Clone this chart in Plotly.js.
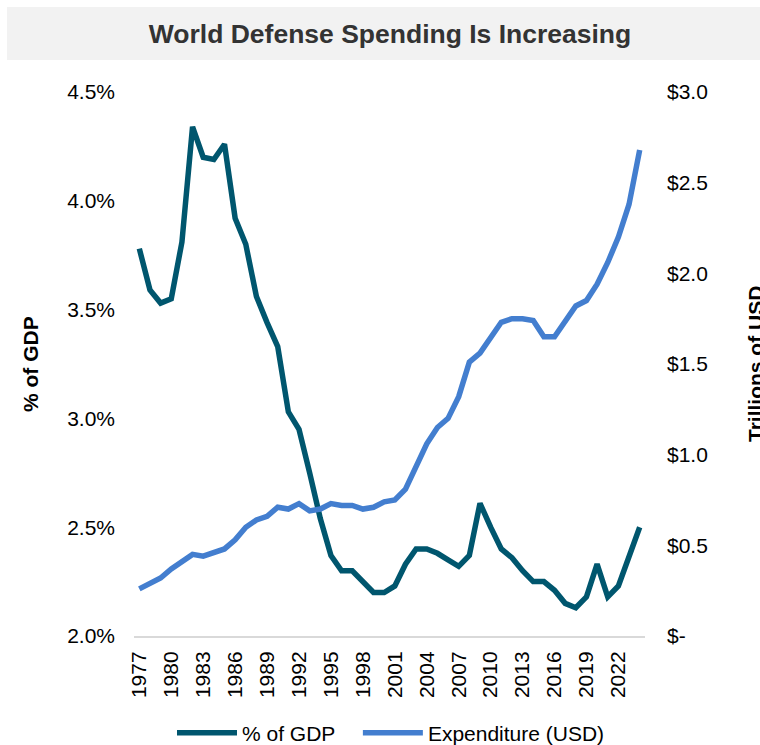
<!DOCTYPE html>
<html>
<head>
<meta charset="utf-8">
<script src="https://cdn.plot.ly/plotly-3.0.1.min.js"></script>
<style>html,body{margin:0;padding:0;background:#fff;}#chart{width:760px;height:745px;}</style>
</head>
<body>
<div id="chart"></div>
<script>
// ---- Data ----
const years = [1977,1978,1979,1980,1981,1982,1983,1984,1985,1986,1987,1988,1989,1990,1991,1992,
  1993,1994,1995,1996,1997,1998,1999,2000,2001,2002,2003,2004,2005,2006,2007,2008,
  2009,2010,2011,2012,2013,2014,2015,2016,2017,2018,2019,2020,2021,2022,2023,2024];
const pctOfGdp = [3.78,3.59,3.53,3.55,3.81,4.34,4.20,4.19,4.26,3.92,3.80,3.56,3.44,3.33,3.03,2.95,
  2.75,2.54,2.37,2.30,2.30,2.25,2.20,2.20,2.23,2.33,2.40,2.40,2.38,2.35,2.32,2.37,
  2.61,2.50,2.40,2.36,2.30,2.25,2.25,2.21,2.15,2.13,2.18,2.33,2.18,2.23,2.36,2.50];
const expenditureTrillions = [0.26,0.29,0.32,0.37,0.41,0.45,0.44,0.46,0.48,0.53,0.60,0.64,0.66,0.71,0.70,0.73,
  0.69,0.70,0.73,0.72,0.72,0.70,0.71,0.74,0.75,0.81,0.93,1.06,1.15,1.20,1.32,1.51,
  1.56,1.65,1.73,1.75,1.75,1.74,1.65,1.65,1.73,1.82,1.85,1.94,2.06,2.20,2.38,2.68];
const xTickYears = [1977,1980,1983,1986,1989,1992,1995,1998,2001,2004,2007,2010,2013,2016,2019,2022];
const leftTickVals = [2.0,2.5,3.0,3.5,4.0,4.5];
const leftTickText = ["2.0%","2.5%","3.0%","3.5%","4.0%","4.5%"];
const rightTickVals = [0,0.5,1.0,1.5,2.0,2.5,3.0];
const rightTickText = ["$-","$0.5","$1.0","$1.5","$2.0","$2.5","$3.0"];
const seriesNames = ["% of GDP","Expenditure (USD)"];
const chartTitle = "World Defense Spending Is Increasing";

// ---- Chart ----
const FONT = "Liberation Sans, Arial, sans-serif";
const legendPad = "\u00a0\u00a0\u00a0"; // spacing between legend entries
const traces = [
  {x: years, y: pctOfGdp, name: seriesNames[0] + legendPad, type: "scatter", mode: "lines",
   line: {color: "#00566e", width: 5.5}, yaxis: "y", hoverinfo: "skip"},
  {x: years, y: expenditureTrillions, name: seriesNames[1], type: "scatter", mode: "lines",
   line: {color: "#437ecf", width: 5.5}, yaxis: "y2", hoverinfo: "skip"}
];

const layout = {
  width: 760, height: 745,
  margin: {l: 134, r: 115, t: 92, b: 109, pad: 0, autoexpand: false},
  paper_bgcolor: "#ffffff", plot_bgcolor: "#ffffff",
  font: {family: FONT, size: 21, color: "#000000"},
  title: {text: "<b>" + chartTitle + "</b>", font: {family: FONT, size: 26.5, color: "#333333"},
          x: 390/760, xref: "container", xanchor: "center", y: 1 - 34/745, yref: "container", yanchor: "middle"},
  xaxis: {range: [1976.5, 2024.5], tickmode: "array", tickvals: xTickYears, ticktext: xTickYears.map(String),
          tickangle: -90, showgrid: false, zeroline: false, showline: true, linecolor: "#d9d9d9", linewidth: 2,
          ticks: "", ticklabelstandoff: 5, tickfont: {size: 21, color: "#000"}, fixedrange: true, automargin: false},
  yaxis: {range: [2.0, 4.5], tickmode: "array", tickvals: leftTickVals, ticktext: leftTickText,
          showgrid: false, zeroline: false, showline: false, ticks: "", ticklabelstandoff: 18,
          tickfont: {size: 21, color: "#000"}, fixedrange: true, automargin: false},
  yaxis2: {range: [0, 3.0], overlaying: "y", side: "right", tickmode: "array", tickvals: rightTickVals,
           ticktext: rightTickText, showgrid: false, zeroline: false, showline: false, ticks: "",
           ticklabelstandoff: 21, tickfont: {size: 21, color: "#000"}, fixedrange: true, automargin: false},
  showlegend: true,
  legend: {orientation: "h", x: (391-134)/511, xanchor: "center", y: (636-733)/544, yanchor: "middle",
           itemwidth: 60,
           font: {size: 21, color: "#000"}, bgcolor: "rgba(0,0,0,0)"},
  shapes: [
    {type: "rect", xref: "paper", yref: "paper", x0: (7-134)/511, x1: (760-134)/511,
     y0: (636-60)/544, y1: (636-7)/544, fillcolor: "#f2f2f2", line: {width: 0}, layer: "below"}
  ],
  annotations: [
    {text: "<b>% of GDP</b>", xref: "paper", yref: "paper", x: (30-134)/511, y: (636-364)/544,
     xanchor: "center", yanchor: "middle", textangle: -90, showarrow: false, font: {size: 21, color: "#000"}},
    {text: "<b>Trillions of USD</b>", xref: "paper", yref: "paper", x: (755-134)/511, y: (636-364)/544,
     xanchor: "center", yanchor: "middle", textangle: -90, showarrow: false, font: {size: 21, color: "#000"}}
  ]
};

Plotly.newPlot("chart", traces, layout, {staticPlot: true, displayModeBar: false});
</script>
</body>
</html>
